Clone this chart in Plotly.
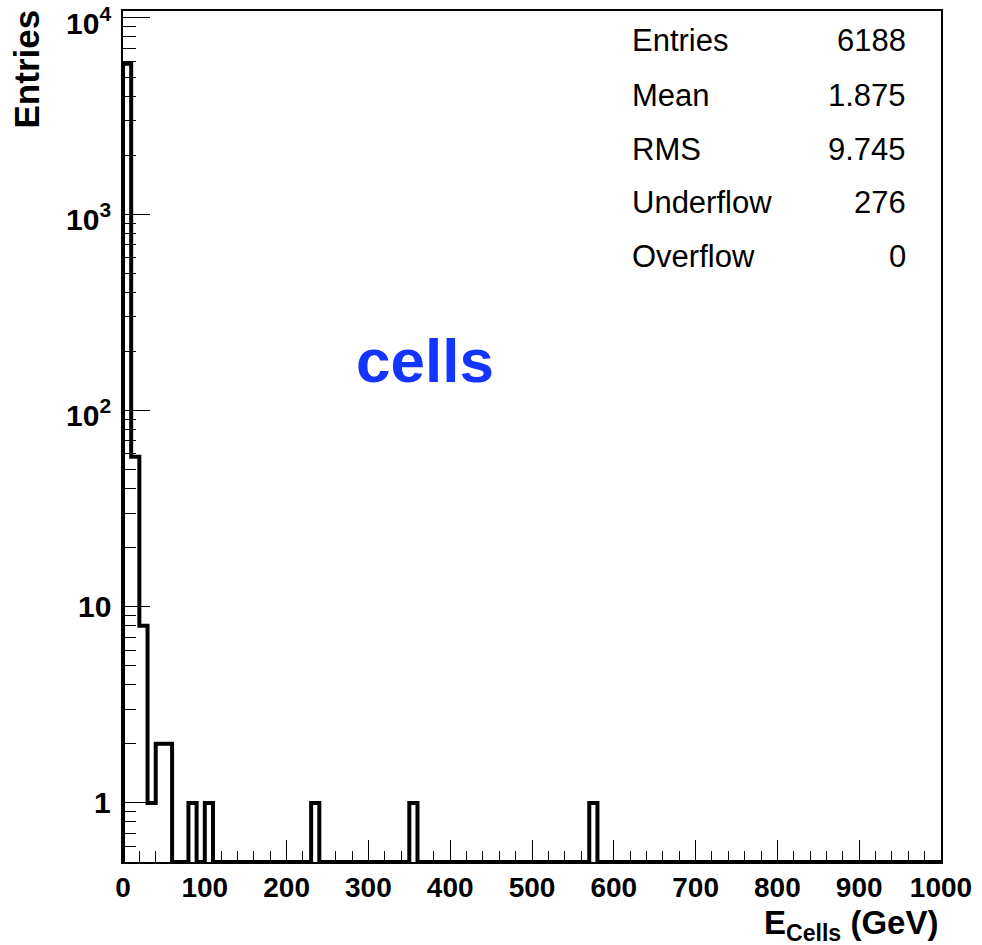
import plotly.graph_objects as go
import math

# ---------------- data ----------------
bin_width = 10
x_min, x_max = 0, 1000
counts = [
    5836, 58, 8, 1, 2, 2, 0, 0, 1, 0,
    1, 0, 0, 0, 0, 0, 0, 0, 0, 0,
    0, 0, 0, 1, 0, 0, 0, 0, 0, 0,
    0, 0, 0, 0, 0, 1, 0, 0, 0, 0,
    0, 0, 0, 0, 0, 0, 0, 0, 0, 0,
    0, 0, 0, 0, 0, 0, 0, 1, 0, 0,
    0, 0, 0, 0, 0, 0, 0, 0, 0, 0,
    0, 0, 0, 0, 0, 0, 0, 0, 0, 0,
    0, 0, 0, 0, 0, 0, 0, 0, 0, 0,
    0, 0, 0, 0, 0, 0, 0, 0, 0, 0,
]
stat_labels = ["Entries", "Mean", "RMS", "Underflow", "Overflow"]
stat_values = ["6188", "1.875", "9.745", "276", "0"]
y_tickvals = [1, 10, 100, 1000, 10000]
y_ticktext = ["1", "10", "10<sup>2</sup>", "10<sup>3</sup>", "10<sup>4</sup>"]
x_tickvals = [0, 100, 200, 300, 400, 500, 600, 700, 800, 900, 1000]

y_lo, y_hi = 0.5, 10850.0

# ---------------- histogram outline (ROOT style step) ----------------
edges = [x_min + i * bin_width for i in range(len(counts) + 1)]
floor = y_lo
xs = [edges[0]]
ys = [floor]
for i, c in enumerate(counts):
    v = c if c > 0 else floor
    xs += [edges[i], edges[i + 1]]
    ys += [v, v]
xs.append(edges[-1])
ys.append(floor)

FONT = "Liberation Sans, Arial, Helvetica, sans-serif"

fig = go.Figure()
fig.add_trace(go.Scatter(
    x=xs, y=ys, mode="lines",
    line=dict(color="black", width=4, shape="linear"),
    hoverinfo="skip", showlegend=False,
))

minor_y = []
for k in range(-1, 4):
    for d in range(2, 10):
        v = d * 10 ** k
        if y_lo < v < y_hi:
            minor_y.append(v)

fig.update_layout(
    width=982, height=945,
    margin=dict(l=123, r=41, t=11, b=83),
    paper_bgcolor="white", plot_bgcolor="white",
    showlegend=False,
    xaxis=dict(
        range=[x_min, x_max],
        tickmode="array", tickvals=x_tickvals,
        ticks="inside", ticklen=22, tickwidth=1, tickcolor="black",
        minor=dict(dtick=20, tick0=0, ticks="inside", ticklen=11, tickwidth=1, tickcolor="black"),
        showline=True, linecolor="black", linewidth=1.5, mirror=True,
        showgrid=False, zeroline=False,
        tickfont=dict(family=FONT, size=28, color="black", weight="bold"),
        ticklabelstandoff=0,
        ticklabeloverflow="allow",
        automargin=False,
    ),
    yaxis=dict(
        type="log",
        range=[math.log10(y_lo), math.log10(y_hi)],
        tickmode="array", tickvals=y_tickvals, ticktext=y_ticktext,
        showticklabels=False,
        ticks="inside", ticklen=27, tickwidth=1, tickcolor="black",
        minor=dict(tickmode="array", tickvals=minor_y, ticks="inside", ticklen=13, tickwidth=1, tickcolor="black"),
        showline=True, linecolor="black", linewidth=1.5, mirror=True,
        showgrid=False, zeroline=False,
        automargin=False,
    ),
)

plot_left, plot_top, plot_w, plot_h = 123, 11, 818, 851

def px(xp):
    return (xp - plot_left) / plot_w

def py(yp):
    return (plot_top + plot_h - yp) / plot_h

# y tick labels (ROOT centres the whole label, superscript included)
for v, t in zip(y_tickvals, y_ticktext):
    fig.add_annotation(xref="paper", yref="y", x=px(113), y=math.log10(v),
                       text=t, showarrow=False, xanchor="right", yanchor="middle",
                       yshift=-3 if "<sup>" in t else 0,
                       font=dict(family=FONT, size=30, color="black", weight="bold"))

# stats box text
row_y = [41, 95, 149, 203, 257]
for lab, val, yy in zip(stat_labels, stat_values, row_y):
    fig.add_annotation(xref="paper", yref="paper", x=px(630), y=py(yy),
                       text=lab, showarrow=False, xanchor="left", yanchor="middle",
                       font=dict(family=FONT, size=31, color="black"))
    fig.add_annotation(xref="paper", yref="paper", x=px(908), y=py(yy),
                       text=val, showarrow=False, xanchor="right", yanchor="middle",
                       font=dict(family=FONT, size=31, color="black"))

# "cells" label
fig.add_annotation(xref="paper", yref="paper", x=px(424.5), y=py(360),
                   text="cells", showarrow=False, xanchor="center", yanchor="middle",
                   font=dict(family=FONT, size=62, color="#1434ff", weight="bold"))

# axis titles
fig.add_annotation(xref="paper", yref="paper", x=px(940), y=py(925),
                   text="E<sub>Cells</sub> (GeV)", showarrow=False,
                   xanchor="right", yanchor="middle",
                   font=dict(family=FONT, size=33, color="black", weight="bold"))
fig.add_annotation(xref="paper", yref="paper", x=px(26), y=py(8),
                   text="Entries", showarrow=False, textangle=-90,
                   xanchor="center", yanchor="top",
                   font=dict(family=FONT, size=35, color="black", weight="bold"))

fig.write_html("out.html")
